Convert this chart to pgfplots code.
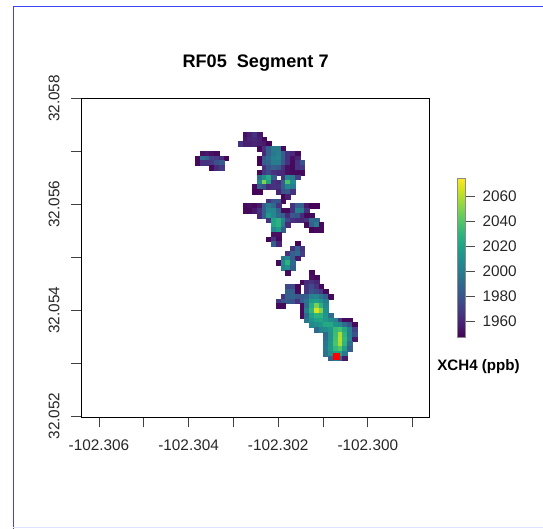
\documentclass[border=0pt]{standalone}
\usepackage{fontspec}
\setmainfont{Liberation Sans}
\usepackage{pgfplots}
\pgfplotsset{compat=1.18}
\begin{document}
\begin{tikzpicture}[x=1bp,y=1bp]
\path[use as bounding box] (0,0) rectangle (543,529);
\draw[color=blue!75!white,line width=1.3pt] (543,522.5) -- (13.3,522.5) -- (13.3,0);
\draw[color=blue!12!white,line width=1pt] (13.3,2) -- (543,2);
% x values: thousandths of a degree east of -102.300; y values: thousandths of a degree north of 32.052
\begin{axis}[
  at={(81.6bp,112bp)},anchor=south west,
  scale only axis,width=347.9bp,height=318.5bp,
  xmin=-6.388,xmax=1.377,ymin=-0.02,ymax=6.0,
  axis line style={black,line width=0.8pt},
  tick align=outside,xtick pos=bottom,ytick pos=left,
  major tick length=10.5bp,
  tick style={black!75,line width=0.7pt},
  xtick={-6,-5,-4,-3,-2,-1,0,1},
  xticklabels={-102.306,,-102.304,,-102.302,,-102.300,},
  ytick={0,1,2,3,4,5,6},
  yticklabels={32.052,,32.054,,32.056,,32.058},
  xticklabel style={font=\fontsize{15.4}{18}\selectfont,text=black!85,yshift=-9bp},
  yticklabel style={font=\fontsize{15.4}{18}\selectfont,text=black!85,rotate=90,anchor=south,yshift=8bp},
  title={RF05\ \ Segment 7},
  title style={font=\bfseries\fontsize{18.2}{21}\selectfont,yshift=18bp},
  colormap/viridis,
  point meta min=1947,point meta max=2074,
  colorbar,
  colorbar style={
    scale only axis,width=8bp,height=159.3bp,
    at={(1.0806,0.249)},anchor=south west,
    axis line style={black!45,line width=0.6pt},
    ytick={1960,1980,2000,2020,2040,2060},
    ytick pos=right,yticklabel pos=right,
    tick align=outside,
    major tick length=9.5bp,
    tick style={black!70,line width=0.7pt},
    yticklabel style={font=\fontsize{15.4}{18}\selectfont,text=black!85,xshift=4bp,
      /pgf/number format/assume math mode=true,/pgf/number format/1000 sep={}},
  },
]
\addplot[scatter,only marks,mark=square*,mark size=2.35bp,point meta=explicit,
  scatter/use mapped color={draw=mapped color,fill=mapped color},mark options={line width=0.2pt}]
coordinates {
(-2.740,5.322)[1952] (-2.634,5.322)[1958] (-2.528,5.322)[1965] (-2.422,5.322)[1955]
(-2.740,5.232)[1955] (-2.634,5.232)[1960] (-2.528,5.232)[1962] (-2.422,5.232)[1958] (-2.316,5.232)[1950]
(-2.846,5.142)[1965] (-2.740,5.142)[1958] (-2.634,5.142)[1958] (-2.528,5.142)[1960] (-2.422,5.142)[1958] (-2.316,5.142)[1955] (-2.210,5.142)[1948]
(-2.422,5.052)[1950] (-2.316,5.052)[1965] (-2.210,5.052)[1985] (-2.104,5.052)[2000] (-1.998,5.052)[2000] (-1.892,5.052)[1950]
(-3.694,4.962)[1952] (-3.588,4.962)[1955] (-3.482,4.962)[1952] (-3.376,4.962)[1950]
(-2.316,4.962)[1962] (-2.210,4.962)[1985] (-2.104,4.962)[1998] (-1.998,4.962)[2002] (-1.892,4.962)[1985] (-1.786,4.962)[1965] (-1.680,4.962)[1962] (-1.574,4.962)[1950]
(-3.800,4.872)[1950] (-3.694,4.872)[1992] (-3.588,4.872)[1985] (-3.482,4.872)[1972] (-3.376,4.872)[1970] (-3.270,4.872)[1963] (-3.164,4.872)[1948]
(-2.422,4.872)[1948] (-2.316,4.872)[1982] (-2.210,4.872)[1992] (-2.104,4.872)[2002] (-1.998,4.872)[2004] (-1.892,4.872)[1985] (-1.786,4.872)[1965] (-1.680,4.872)[1952] (-1.574,4.872)[1960]
(-3.800,4.782)[1950] (-3.694,4.782)[1965] (-3.588,4.782)[1965] (-3.482,4.782)[1968] (-3.376,4.782)[1978] (-3.270,4.782)[1982]
(-2.422,4.782)[1948] (-2.316,4.782)[1985] (-2.210,4.782)[1988] (-2.104,4.782)[2000] (-1.998,4.782)[2000] (-1.892,4.782)[1982] (-1.786,4.782)[1965] (-1.680,4.782)[1950] (-1.574,4.782)[1965] (-1.468,4.782)[1980]
(-3.482,4.692)[1950] (-3.376,4.692)[1962] (-3.270,4.692)[1968]
(-2.316,4.692)[1965] (-2.210,4.692)[1980] (-2.104,4.692)[1985] (-1.998,4.692)[1982] (-1.892,4.692)[1965] (-1.786,4.692)[1952] (-1.680,4.692)[1950] (-1.574,4.692)[1965] (-1.468,4.692)[1968]
(-2.422,4.602)[1950] (-2.316,4.602)[1968] (-2.210,4.602)[1975] (-2.104,4.602)[1965] (-1.998,4.602)[1962] (-1.892,4.602)[1962] (-1.786,4.602)[1952] (-1.680,4.602)[1950] (-1.574,4.602)[1950] (-1.468,4.602)[1950]
(-2.422,4.512)[1995] (-2.316,4.512)[2010] (-2.210,4.512)[2025] (-2.104,4.512)[1985] (-1.892,4.512)[1965] (-1.786,4.512)[2005] (-1.680,4.512)[2000] (-1.574,4.512)[1970]
(-2.422,4.422)[2005] (-2.316,4.422)[2050] (-2.210,4.422)[2020] (-2.104,4.422)[1965] (-1.998,4.422)[1962] (-1.892,4.422)[1985] (-1.786,4.422)[2038] (-1.680,4.422)[2008]
(-2.528,4.332)[1950] (-2.422,4.332)[1985] (-2.316,4.332)[1980] (-2.210,4.332)[1962] (-2.104,4.332)[1965] (-1.998,4.332)[1965] (-1.892,4.332)[1985] (-1.786,4.332)[2005] (-1.680,4.332)[2000]
(-2.528,4.242)[1948] (-2.422,4.242)[1948] (-1.998,4.242)[1960] (-1.892,4.242)[1980] (-1.786,4.242)[1982] (-1.680,4.242)[1965]
(-1.892,4.152)[1948] (-1.786,4.152)[1958]
(-2.210,4.062)[1965] (-2.104,4.062)[1980] (-1.998,4.062)[1980] (-1.892,4.062)[1950]
(-2.740,3.972)[1950] (-2.634,3.972)[1952] (-2.528,3.972)[1950] (-2.422,3.972)[1955] (-2.316,3.972)[1985] (-2.210,3.972)[2000] (-2.104,3.972)[1990] (-1.998,3.972)[1965]
(-1.680,3.972)[1965] (-1.574,3.972)[1985] (-1.468,3.972)[1985] (-1.362,3.972)[1955] (-1.256,3.972)[1948] (-1.150,3.972)[1948]
(-2.740,3.882)[1950] (-2.634,3.882)[1950] (-2.528,3.882)[1955] (-2.422,3.882)[1965] (-2.316,3.882)[1985] (-2.210,3.882)[2005] (-2.104,3.882)[2005] (-1.998,3.882)[1985] (-1.892,3.882)[1950] (-1.786,3.882)[1950] (-1.680,3.882)[1965] (-1.574,3.882)[2002] (-1.468,3.882)[2000] (-1.362,3.882)[1965]
(-2.422,3.792)[1962] (-2.316,3.792)[1985] (-2.210,3.792)[2015] (-2.104,3.792)[2005] (-1.998,3.792)[1990] (-1.892,3.792)[1985] (-1.786,3.792)[1962] (-1.680,3.792)[1982] (-1.574,3.792)[1980] (-1.468,3.792)[1962] (-1.362,3.792)[1950] (-1.256,3.792)[1950]
(-2.210,3.702)[1965] (-2.104,3.702)[2020] (-1.998,3.702)[2028] (-1.892,3.702)[2005] (-1.786,3.702)[1975] (-1.680,3.702)[1965] (-1.574,3.702)[1962] (-1.468,3.702)[1960] (-1.362,3.702)[1965] (-1.256,3.702)[1992] (-1.150,3.702)[1988]
(-2.104,3.612)[2022] (-1.998,3.612)[2028] (-1.892,3.612)[2000] (-1.786,3.612)[1962] (-1.362,3.612)[1950] (-1.256,3.612)[1985] (-1.150,3.612)[2000] (-1.044,3.612)[1950]
(-2.104,3.522)[2005] (-1.998,3.522)[2015] (-1.892,3.522)[1985] (-1.256,3.522)[1948] (-1.150,3.522)[1950] (-1.044,3.522)[1950]
(-2.104,3.432)[1952] (-1.998,3.432)[1952]
(-2.210,3.342)[1948] (-2.104,3.342)[1965] (-1.998,3.342)[1950]
(-2.104,3.252)[1985] (-1.998,3.252)[1960] (-1.574,3.252)[1948]
(-1.680,3.162)[1965] (-1.574,3.162)[1985] (-1.468,3.162)[1965]
(-1.786,3.072)[1965] (-1.680,3.072)[1985] (-1.574,3.072)[1990] (-1.468,3.072)[1970]
(-1.892,2.982)[1995] (-1.786,2.982)[2005] (-1.680,2.982)[1985] (-1.574,2.982)[1955]
(-1.998,2.892)[1950] (-1.892,2.892)[2005] (-1.786,2.892)[2028] (-1.680,2.892)[1990]
(-1.892,2.802)[2003] (-1.786,2.802)[2010] (-1.680,2.802)[1985]
(-1.786,2.712)[1950] (-1.256,2.712)[1950]
(-1.256,2.622)[1952] (-1.150,2.622)[1950]
(-1.468,2.532)[1950] (-1.362,2.532)[1962] (-1.256,2.532)[1965] (-1.150,2.532)[1960]
(-1.786,2.442)[1975] (-1.680,2.442)[1975] (-1.574,2.442)[1950] (-1.362,2.442)[1965] (-1.256,2.442)[1975] (-1.150,2.442)[1965] (-1.044,2.442)[1950]
(-1.786,2.352)[1985] (-1.680,2.352)[1985] (-1.574,2.352)[1950] (-1.362,2.352)[1965] (-1.256,2.352)[1980] (-1.150,2.352)[1975] (-1.044,2.352)[1968] (-0.938,2.352)[1950]
(-1.892,2.262)[1965] (-1.786,2.262)[1985] (-1.680,2.262)[1988] (-1.574,2.262)[1982] (-1.468,2.262)[1982] (-1.362,2.262)[1985] (-1.256,2.262)[2003] (-1.150,2.262)[2005] (-1.044,2.262)[1995] (-0.938,2.262)[1985] (-0.832,2.262)[1950]
(-1.998,2.172)[1968] (-1.892,2.172)[1980] (-1.786,2.172)[1982] (-1.680,2.172)[1980] (-1.574,2.172)[1965] (-1.468,2.172)[1985] (-1.362,2.172)[1995] (-1.256,2.172)[2015] (-1.150,2.172)[2018] (-1.044,2.172)[2012] (-0.938,2.172)[2000]
(-1.998,2.082)[1950] (-1.892,2.082)[1950] (-1.468,2.082)[1950] (-1.362,2.082)[1992] (-1.256,2.082)[2025] (-1.150,2.082)[2048] (-1.044,2.082)[2028] (-0.938,2.082)[2005]
(-1.468,1.992)[1950] (-1.362,1.992)[2002] (-1.256,1.992)[2030] (-1.150,1.992)[2068] (-1.044,1.992)[2050] (-0.938,1.992)[2010]
(-1.468,1.902)[1950] (-1.362,1.902)[1990] (-1.256,1.902)[2020] (-1.150,1.902)[2030] (-1.044,1.902)[2028] (-0.938,1.902)[2014] (-0.832,1.902)[1992]
(-1.362,1.812)[1998] (-1.256,1.812)[2012] (-1.150,1.812)[2020] (-1.044,1.812)[2022] (-0.938,1.812)[2014] (-0.832,1.812)[2008] (-0.726,1.812)[2003] (-0.620,1.812)[1968] (-0.514,1.812)[1950] (-0.408,1.812)[1950]
(-1.256,1.722)[2005] (-1.150,1.722)[2010] (-1.044,1.722)[2014] (-0.938,1.722)[2024] (-0.832,1.722)[2024] (-0.726,1.722)[2012] (-0.620,1.722)[2008] (-0.514,1.722)[1992] (-0.408,1.722)[1980] (-0.302,1.722)[1950]
(-1.150,1.632)[1990] (-1.044,1.632)[2004] (-0.938,1.632)[2008] (-0.832,1.632)[2014] (-0.726,1.632)[2032] (-0.620,1.632)[2037] (-0.514,1.632)[2024] (-0.408,1.632)[2003] (-0.302,1.632)[1972]
(-0.938,1.542)[1990] (-0.832,1.542)[2012] (-0.726,1.542)[2034] (-0.620,1.542)[2058] (-0.514,1.542)[2030] (-0.408,1.542)[2002] (-0.302,1.542)[1980]
(-0.938,1.452)[1993] (-0.832,1.452)[2012] (-0.726,1.452)[2036] (-0.620,1.452)[2060] (-0.514,1.452)[2032] (-0.408,1.452)[2004] (-0.302,1.452)[1955]
(-0.938,1.362)[1996] (-0.832,1.362)[2014] (-0.726,1.362)[2038] (-0.620,1.362)[2058] (-0.514,1.362)[2030] (-0.408,1.362)[1992]
(-0.938,1.272)[1998] (-0.832,1.272)[2015] (-0.726,1.272)[2032] (-0.620,1.272)[2040] (-0.514,1.272)[2018] (-0.408,1.272)[1985]
(-0.938,1.182)[1994] (-0.832,1.182)[2010] (-0.726,1.182)[2020] (-0.620,1.182)[2020] (-0.514,1.182)[1998]
(-0.832,1.092)[1985] (-0.726,1.092)[2000] (-0.620,1.092)[1990] (-0.514,1.092)[1955]
};
\addplot[only marks,mark=square*,mark size=3.2bp,color=red,mark options={draw=red,fill=red,line width=0pt}] coordinates {(-0.694,1.121)};
\end{axis}
\node[font=\bfseries\fontsize{15.2}{18}\selectfont,text=black] at (478.5,162.5) {XCH4 (ppb)};
\end{tikzpicture}
\end{document}
